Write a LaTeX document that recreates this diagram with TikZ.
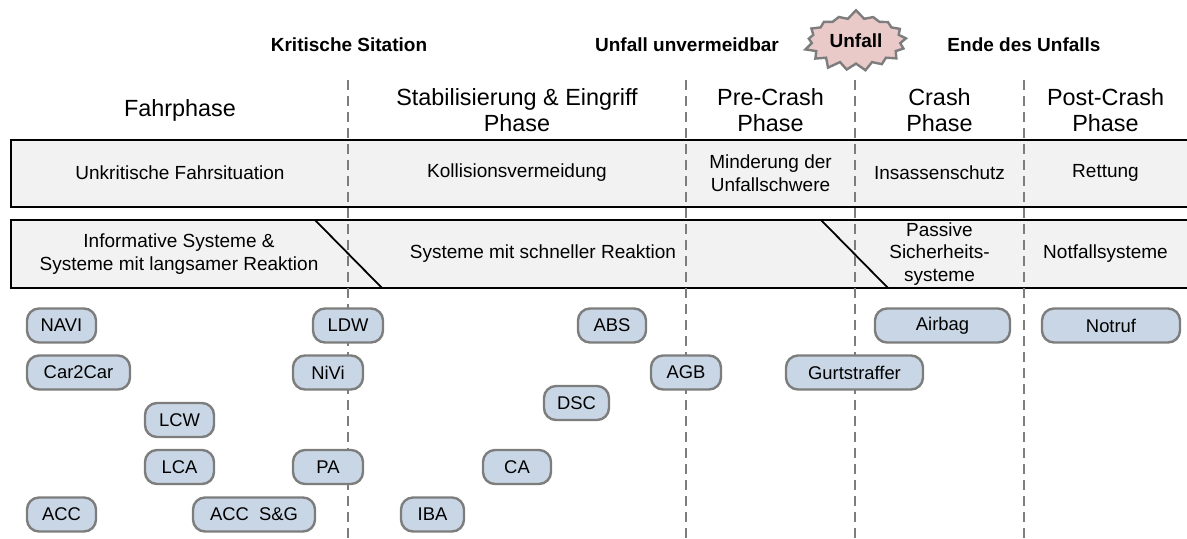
\documentclass[tikz,border=0pt]{standalone}
\usepackage{fontspec}
\setmainfont{Liberation Sans}
\usetikzlibrary{shapes.symbols}

\definecolor{boxgray}{RGB}{242,242,242}
\definecolor{pillblue}{RGB}{201,214,229}
\definecolor{rimgray}{RGB}{125,125,125}
\definecolor{burstpink}{RGB}{234,201,201}

\begin{document}
\begin{tikzpicture}[x = 0.5pt, y = -0.5pt,
	system/.style = {draw = rimgray, line width = 1.2pt, fill = pillblue, rounded corners = 6pt, minimum height = 17pt, inner sep = 0pt, font = \fontsize{9.2}{11}\selectfont},
	phase/.style = {align = center, font = \fontsize{11.7}{13}\selectfont},
	event/.style = {font = \bfseries\fontsize{9.5}{11}\selectfont},
	cell/.style = {align = center, font = \fontsize{9.5}{11.3}\selectfont},
	band/.style = {draw = black, line width = 0.9pt},
	boundary/.style = {draw = rimgray, line width = 1.3pt, dash pattern = on 5pt off 3pt}]

	% Page size

	\useasboundingbox (0, 0) rectangle (1187, 538);

	% Bands (open to the right)

	\fill [boxgray] (11, 140) rectangle (1187, 207);
	\draw [band] (1187, 140) -- (11, 140) -- (11, 207) -- (1187, 207);
	\fill [boxgray] (11, 220) rectangle (1187, 288);
	\draw [band] (1187, 220) -- (11, 220) -- (11, 288) -- (1187, 288);

	% Slanted separators in the lower band

	\coordinate (slow-top) at (315, 220);
	\coordinate (slow-bot) at (382, 288);
	\coordinate (fast-top) at (821, 220);
	\coordinate (fast-bot) at (888, 288);
	\draw [line width = 0.9pt] (slow-top) -- (slow-bot);
	\draw [line width = 0.9pt] (fast-top) -- (fast-bot);

	% Phase boundaries

	\foreach \x in {348, 686, 855, 1024}
		\draw [boundary] (\x, 80) -- (\x, 538);

	% Events

	\node [event] (kritisch) at (349, 45) {Kritische Sitation};
	\node [event] (unvermeidbar) at (687, 45) {Unfall unvermeidbar};
	\node [event] (ende) at (1024, 45) {Ende des Unfalls};
	\node [event, starburst, draw = rimgray, line width = 1.2pt, fill = burstpink, starburst points = 17, starburst point height = 4.5pt, random starburst = 7, inner xsep = 2.5pt, inner ysep = 4.5pt] (unfall) at (856, 41) {Unfall};

	% Phase titles

	\node [phase] (fahr) at (180, 110) {Fahrphase};
	\node [phase] (stab) at (517, 110) {Stabilisierung \& Eingriff\\Phase};
	\node [phase] (pre) at (770.5, 110) {Pre-Crash\\Phase};
	\node [phase] (crash) at (939.5, 110) {Crash\\Phase};
	\node [phase] (post) at (1105.5, 110) {Post-Crash\\Phase};

	% Upper band

	\node [cell] (unkritisch) at (180, 173) {Unkritische Fahrsituation};
	\node [cell] (vermeidung) at (517, 173) {Kollisionsvermeidung};
	\node [cell] (minderung) at (770.5, 173) {Minderung der\\Unfallschwere};
	\node [cell] (insassen) at (939.5, 173) {Insassenschutz};
	\node [cell] (rettung) at (1105.5, 173) {Rettung};

	% Lower band

	\node [cell] (informativ) at (179, 254) {Informative Systeme \&\\Systeme mit langsamer Reaktion};
	\node [cell] (schnell) at (543, 254) {Systeme mit schneller Reaktion};
	\node [cell] (passiv) at (939.5, 254) {Passive\\Sicherheits-\\systeme};
	\node [cell] (notfall) at (1105.5, 254) {Notfallsysteme};

	% Systems

	\node [system, minimum width = 34.5pt] (navi) at (61.5, 325.5) {NAVI};
	\node [system, minimum width = 51.5pt] (car2car) at (78.5, 372.5) {Car2Car};
	\node [system, minimum width = 34.5pt] (lcw) at (179.5, 420) {LCW};
	\node [system, minimum width = 34.5pt] (lca) at (179.5, 467) {LCA};
	\node [system, minimum width = 34.5pt] (acc) at (61.5, 514.5) {ACC};
	\node [system, minimum width = 61pt] (accsg) at (254, 514.5) {ACC\ \ S\&G};
	\node [system, minimum width = 35pt] (ldw) at (348, 325.5) {LDW};
	\node [system, minimum width = 35pt] (nivi) at (328, 372.5) {NiVi};
	\node [system, minimum width = 35pt] (pa) at (328, 467) {PA};
	\node [system, minimum width = 34pt] (abs) at (612, 325.5) {ABS};
	\node [system, minimum width = 35pt] (agb) at (686, 372.5) {AGB};
	\node [system, minimum width = 32.5pt] (dsc) at (576.5, 403) {DSC};
	\node [system, minimum width = 34pt] (ca) at (517, 467) {CA};
	\node [system, minimum width = 31.5pt] (iba) at (432.5, 514.5) {IBA};
	\node [system, minimum width = 68.5pt] (gurt) at (854.5, 372.5) {Gurtstraffer};
	\node [system, minimum width = 67.5pt] (airbag) at (942.5, 325.5) {Airbag};
	\node [system, minimum width = 69pt] (notruf) at (1111, 325.5) {Notruf};

\end{tikzpicture}
\end{document}
